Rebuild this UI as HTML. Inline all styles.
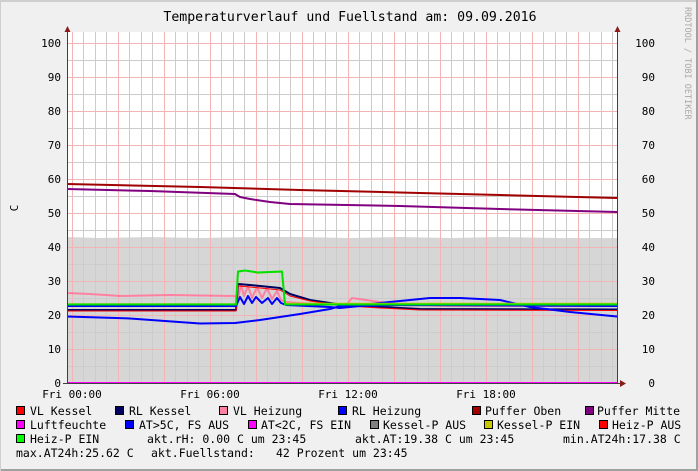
<!DOCTYPE html>
<html><head><meta charset="utf-8"><style>
html,body{margin:0;padding:0;}
body{width:698px;height:471px;overflow:hidden;background:#f0f0f0;}
svg{display:block;}
text{font-family:"DejaVu Sans Mono","Liberation Mono",monospace;}
</style></head><body>
<svg width="698" height="471" viewBox="0 0 698 471" xmlns="http://www.w3.org/2000/svg">
<rect x="0" y="0" width="698" height="471" fill="#f0f0f0"/>
<rect x="0" y="0" width="698" height="2" fill="#cfcfcf"/>
<rect x="0" y="469" width="698" height="2" fill="#a0a0a0"/>
<rect x="696" y="0" width="2" height="471" fill="#a0a0a0"/>
<rect x="0" y="0" width="1" height="471" fill="#cfcfcf"/>
<text x="350" y="21" font-size="13.2" text-anchor="middle" fill="#000">Temperaturverlauf und Fuellstand am: 09.09.2016</text>
<text transform="translate(685,7) rotate(90)" font-size="8.5" fill="#a8a8a8">RRDTOOL / TOBI OETIKER</text>
<text transform="translate(18,208) rotate(-90)" font-size="11" fill="#000" text-anchor="middle">C</text>
<rect x="67" y="32" width="550" height="351" fill="#ffffff"/>
<path d="M67,383 L67,237 L100,238 L150,237 L200,238 L250,237 L300,237 L350,238 L400,237 L450,238 L500,237 L560,238 L617,238 L617,383 Z" fill="#d6d6d6"/>
<g stroke-width="1" shape-rendering="crispEdges">
<g stroke="#cccccc">
<path d="M67,366.5H617M67,332.5H617M67,298.5H617M67,264.5H617M67,230.5H617M67,196.5H617M67,162.5H617M67,128.5H617M67,94.5H617M67,60.5H617"/>
<path d="M83.5,32V383M95.5,32V383M106.5,32V383M129.5,32V383M141.5,32V383M152.5,32V383M175.5,32V383M187.5,32V383M198.5,32V383M221.5,32V383M233.5,32V383M244.5,32V383M267.5,32V383M279.5,32V383M290.5,32V383M313.5,32V383M325.5,32V383M336.5,32V383M359.5,32V383M371.5,32V383M382.5,32V383M405.5,32V383M417.5,32V383M428.5,32V383M451.5,32V383M463.5,32V383M474.5,32V383M497.5,32V383M509.5,32V383M520.5,32V383M543.5,32V383M555.5,32V383M566.5,32V383M589.5,32V383M601.5,32V383M612.5,32V383"/>
</g>
<g stroke="#f2b4b4">
<path d="M67,349.5H617M67,315.5H617M67,281.5H617M67,247.5H617M67,213.5H617M67,179.5H617M67,145.5H617M67,111.5H617M67,77.5H617M67,43.5H617"/>
<path d="M72.5,32V383M118.5,32V383M164.5,32V383M210.5,32V383M256.5,32V383M302.5,32V383M348.5,32V383M394.5,32V383M440.5,32V383M486.5,32V383M532.5,32V383M578.5,32V383"/>
</g>
</g>
<g fill="none" stroke-width="2" stroke-linejoin="round">
<path d="M67,184 L200,187 L300,190 L400,192.5 L500,195 L617,198" stroke="#a00000"/>
<path d="M67,189 L150,191 L235,194 L240,197 L250,199 L270,202 L290,204 L400,206 L500,209 L617,212" stroke="#800080"/>
<path d="M67,293 L90,294 L120,296 L170,295 L200,295.5 L235,296 L238,300 L241,284 L244,296 L248,286 L252,298 L257,287 L262,298 L267,288 L272,299 L277,291 L281,300 L286,302 L300,303 L340,305 L347,304 L352,298 L380,302 L400,305 L450,306 L617,306" stroke="#ff80a0"/>
<path d="M67,310 L236,310 L238,284 L250,285 L280,288 L290,294 L310,300 L340,304.5 L380,307 L420,309 L617,309.5" stroke="#000060"/>
<path d="M67,311 L236,311 L238,286 L250,287 L280,290 L290,296 L310,301 L340,305.5 L380,308 L420,310 L617,310.5" stroke="#ff0000" stroke-width="1"/>
<path d="M67,306 L236,306 L240,297 L244,304 L248,296 L252,303 L256,297 L262,303 L268,298 L272,304 L277,298 L281,303 L286,305 L330,307 L340,308 L360,306 L400,305 L617,306" stroke="#0000ff"/>
<path d="M67,316.5 L130,318.5 L200,323.5 L235,323 L260,320 L300,314 L330,309 L340,306 L360,305 L380,303 L400,301 L430,298 L460,298 L500,300 L530,307 L570,312 L617,316.5" stroke="#0000ff"/>
<path d="M67,304 L236,304 L238,272 L245,270.5 L258,273 L270,272 L282,272 L285,303.5 L617,303.5" stroke="#c8c800" stroke-width="1.5"/>
<path d="M67,304.5 L236,304.5 L238,271.5 L245,270.5 L258,272.5 L270,272 L282,271.5 L285,304.5 L617,304.5" stroke="#00e000"/>
<path d="M67,383 L617,383" stroke="#ff00ff"/>
</g>
<path d="M67.5,28V384M617.5,28V384M63,383.5H622" stroke="#404040" stroke-width="1" fill="none" shape-rendering="crispEdges"/>
<path d="M64.5,32L67.5,26L70.5,32Z M614.5,32L617.5,26L620.5,32Z M620,380L626,383.5L620,387Z" fill="#8b1a1a"/>
<g font-size="11" fill="#000">
<g text-anchor="end">
<text x="61" y="47">100</text><text x="61" y="81">90</text><text x="61" y="115">80</text><text x="61" y="149">70</text><text x="61" y="183">60</text><text x="61" y="217">50</text><text x="61" y="251">40</text><text x="61" y="285">30</text><text x="61" y="319">20</text><text x="61" y="353">10</text><text x="61" y="387">0</text>
<text x="655" y="47">100</text><text x="655" y="81">90</text><text x="655" y="115">80</text><text x="655" y="149">70</text><text x="655" y="183">60</text><text x="655" y="217">50</text><text x="655" y="251">40</text><text x="655" y="285">30</text><text x="655" y="319">20</text><text x="655" y="353">10</text><text x="655" y="387">0</text>
</g>
<g text-anchor="middle">
<text x="72" y="398">Fri 00:00</text><text x="210" y="398">Fri 06:00</text><text x="348" y="398">Fri 12:00</text><text x="486" y="398">Fri 18:00</text>
</g>
</g>
<g stroke="#000" stroke-width="1" shape-rendering="crispEdges">
<rect x="16.5" y="406.5" width="8" height="8" fill="#ff0000"/>
<rect x="115.5" y="406.5" width="8" height="8" fill="#000060"/>
<rect x="219.5" y="406.5" width="8" height="8" fill="#ff80a0"/>
<rect x="338.5" y="406.5" width="8" height="8" fill="#0000ff"/>
<rect x="472.5" y="406.5" width="8" height="8" fill="#a00000"/>
<rect x="585.5" y="406.5" width="8" height="8" fill="#800080"/>
<rect x="16.5" y="420.5" width="8" height="8" fill="#ff00ff"/>
<rect x="125.5" y="420.5" width="8" height="8" fill="#0000ff"/>
<rect x="248.5" y="420.5" width="8" height="8" fill="#ff00ff"/>
<rect x="370.5" y="420.5" width="8" height="8" fill="#808080"/>
<rect x="484.5" y="420.5" width="8" height="8" fill="#c8c800"/>
<rect x="599.5" y="420.5" width="8" height="8" fill="#ff0000"/>
<rect x="16.5" y="434.5" width="8" height="8" fill="#00ff00"/>
</g>
<g font-size="11.5" fill="#000" xml:space="preserve">
<text x="30" y="415">VL Kessel</text>
<text x="129" y="415">RL Kessel</text>
<text x="233" y="415">VL Heizung</text>
<text x="352" y="415">RL Heizung</text>
<text x="485" y="415">Puffer Oben</text>
<text x="597" y="415">Puffer Mitte</text>
<text x="30" y="429">Luftfeuchte</text>
<text x="139" y="429">AT&gt;5C, FS AUS</text>
<text x="261" y="429">AT&lt;2C, FS EIN</text>
<text x="383" y="429">Kessel-P AUS</text>
<text x="497" y="429">Kessel-P EIN</text>
<text x="612" y="429">Heiz-P AUS</text>
<text x="30" y="443">Heiz-P EIN</text>
<text x="147" y="443">akt.rH: 0.00 C um 23:45</text>
<text x="355" y="443">akt.AT:19.38 C um 23:45</text>
<text x="563" y="443">min.AT24h:17.38 C</text>
<text x="16" y="457">max.AT24h:25.62 C</text>
<text x="151" y="457">akt.Fuellstand:</text>
<text x="276" y="457">42 Prozent um 23:45</text>
</g>
</svg>
</body></html>
